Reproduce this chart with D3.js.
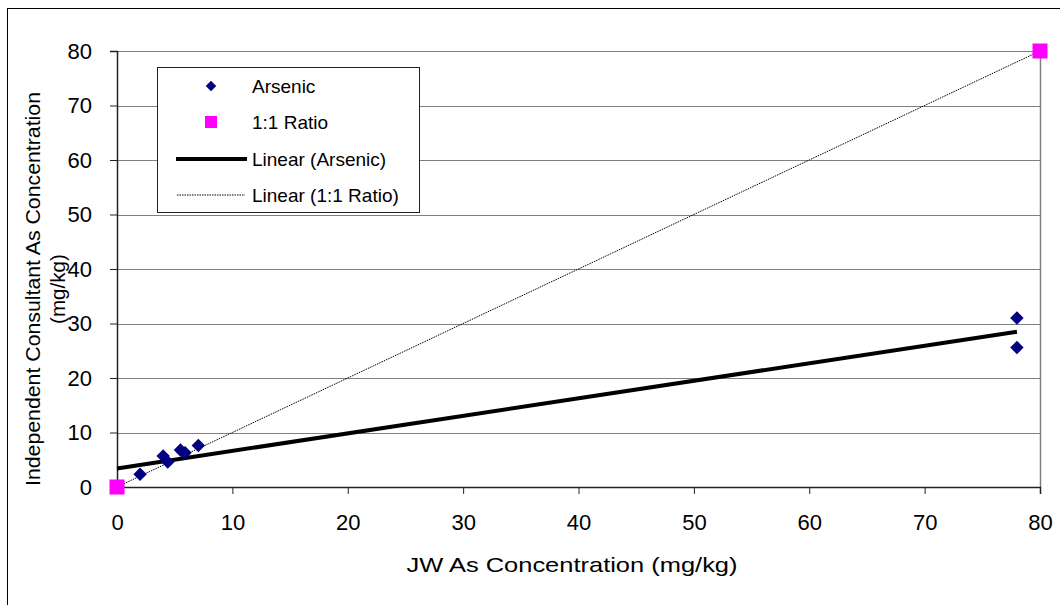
<!DOCTYPE html>
<html>
<head>
<meta charset="utf-8">
<script src="https://cdn.jsdelivr.net/npm/d3@7/dist/d3.min.js"></script>
<style>
  html, body { margin: 0; padding: 0; background: #fff; }
  svg { display: block; font-family: "Liberation Sans", Arial, sans-serif; }
</style>
</head>
<body>
<svg id="chart" width="1060" height="605"></svg>
<script>
// ---- data ----
const arsenicX = [2.0, 4.0, 4.4, 5.5, 5.9, 7.05, 78.0, 78.0];
const arsenicY = [2.35, 5.7, 4.6, 6.8, 6.3, 7.6, 31.0, 25.6];
const ratioX = [0, 80];
const ratioY = [0, 80];
const trendX = [0, 78.0];
const trendY = [3.4, 28.5];
const xTicks = [0, 10, 20, 30, 40, 50, 60, 70, 80];
const yTicks = [0, 10, 20, 30, 40, 50, 60, 70, 80];
const legendLabels = ["Arsenic", "1:1 Ratio", "Linear (Arsenic)", "Linear (1:1 Ratio)"];
const xTitle = "JW As Concentration (mg/kg)";
const yTitle = ["Independent Consultant As Concentration", "(mg/kg)"];

const svg = d3.select("#chart");
const x = d3.scaleLinear().domain([0, 80]).range([117, 1040]);
const y = d3.scaleLinear().domain([0, 80]).range([487, 51]);

// outer frame
svg.append("rect").attr("x", 7.5).attr("y", 8.5).attr("width", 1070).attr("height", 620)
  .attr("fill", "#fff").attr("stroke", "#000").attr("stroke-width", 1);

// gridlines
svg.append("g").selectAll("line").data(yTicks.filter(d => d > 0)).join("line")
  .attr("x1", x(0)).attr("x2", x(80))
  .attr("y1", d => Math.round(y(d)) + 0.5).attr("y2", d => Math.round(y(d)) + 0.5)
  .attr("stroke", "#808080").attr("stroke-width", 1);
// right border
svg.append("line").attr("x1", x(80) + 0.5).attr("x2", x(80) + 0.5)
  .attr("y1", y(80)).attr("y2", y(0)).attr("stroke", "#808080").attr("stroke-width", 1.5);

// axes
const yAxis = d3.axisLeft(y).tickValues(yTicks).tickSize(7).tickPadding(18).tickFormat(d3.format("d"));
const gy = svg.append("g").attr("transform", `translate(${x(0)},0)`).call(yAxis);
gy.select(".domain").attr("stroke", "#222").attr("stroke-width", 1.5);
gy.selectAll(".tick line").attr("stroke", "#222");
gy.selectAll(".tick text").attr("font-size", 22).attr("fill", "#000")
  .attr("font-family", "Liberation Sans, Arial, sans-serif");

const xAxis = d3.axisBottom(x).tickValues(xTicks).tickSize(7).tickPadding(20).tickFormat(d3.format("d"));
const gx = svg.append("g").attr("transform", `translate(0,${y(0)})`).call(xAxis);
gx.select(".domain").attr("stroke", "#222").attr("stroke-width", 1.5);
gx.selectAll(".tick line").attr("stroke", "#222");
gx.selectAll(".tick text").attr("font-size", 22).attr("fill", "#000")
  .attr("font-family", "Liberation Sans, Arial, sans-serif");

// 1:1 line (dotted)
const line = d3.line().x(d => x(d[0])).y(d => y(d[1]));
svg.append("path").datum(d3.zip(ratioX, ratioY)).attr("d", line)
  .attr("fill", "none").attr("stroke", "#000").attr("stroke-width", 1).attr("stroke-dasharray", "1.5,1");

// trend line
svg.append("path").datum(d3.zip(trendX, trendY)).attr("d", line)
  .attr("fill", "none").attr("stroke", "#000").attr("stroke-width", 4);

// arsenic diamonds
const diamond = d3.symbol().type(d3.symbolDiamond2).size(115);
svg.append("g").selectAll("path").data(d3.zip(arsenicX, arsenicY)).join("path")
  .attr("transform", d => `translate(${x(d[0])},${y(d[1])})`)
  .attr("d", diamond).attr("fill", "#000080");

// ratio squares
svg.append("g").selectAll("rect").data(d3.zip(ratioX, ratioY)).join("rect")
  .attr("x", d => x(d[0]) - 7.5).attr("y", d => y(d[1]) - 7.5)
  .attr("width", 15).attr("height", 15).attr("fill", "#FF00FF");

// legend
const lg = svg.append("g");
lg.append("rect").attr("x", 157.5).attr("y", 67.5).attr("width", 262).attr("height", 145)
  .attr("fill", "#fff").attr("stroke", "#222").attr("stroke-width", 1);
const rowY = [86, 122, 159, 195];
const symX = 211;
lg.append("path").attr("transform", `translate(${symX},${rowY[0]})`)
  .attr("d", d3.symbol().type(d3.symbolDiamond2).size(70)).attr("fill", "#000080");
lg.append("rect").attr("x", symX - 6).attr("y", rowY[1] - 6).attr("width", 12).attr("height", 12).attr("fill", "#FF00FF");
lg.append("line").attr("x1", 176).attr("x2", 247).attr("y1", rowY[2]).attr("y2", rowY[2])
  .attr("stroke", "#000").attr("stroke-width", 4);
lg.append("line").attr("x1", 177).attr("x2", 245).attr("y1", rowY[3]).attr("y2", rowY[3])
  .attr("stroke", "#000").attr("stroke-width", 1).attr("stroke-dasharray", "1.5,1");
lg.selectAll("text").data(legendLabels).join("text")
  .attr("x", 252).attr("y", (d, i) => rowY[i]).attr("dy", "0.35em")
  .attr("font-size", 19).attr("fill", "#000").text(d => d);

// axis titles
svg.append("text").attr("x", 572).attr("y", 572).attr("text-anchor", "middle")
  .attr("font-size", 21).attr("fill", "#000")
  .attr("textLength", 331).attr("lengthAdjust", "spacingAndGlyphs").text(xTitle);

const yt = svg.append("g").attr("transform", "translate(0,289) rotate(-90)");
yt.append("text").attr("x", 0).attr("y", 40).attr("text-anchor", "middle")
  .attr("font-size", 20).attr("fill", "#000")
  .attr("textLength", 394).attr("lengthAdjust", "spacingAndGlyphs").text(yTitle[0]);
yt.append("text").attr("x", 0).attr("y", 65).attr("text-anchor", "middle")
  .attr("font-size", 20).attr("fill", "#000")
  .attr("textLength", 70).attr("lengthAdjust", "spacingAndGlyphs").text(yTitle[1]);
</script>
</body>
</html>
